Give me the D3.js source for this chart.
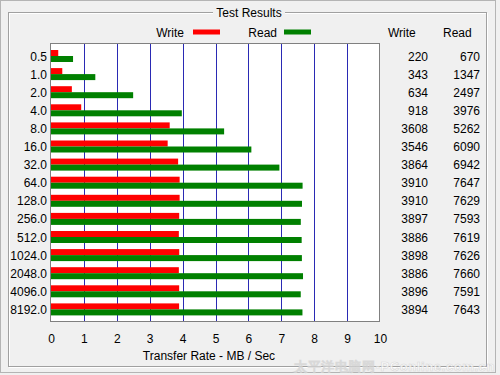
<!DOCTYPE html>
<html><head><meta charset="utf-8">
<script src="https://cdn.jsdelivr.net/npm/d3@7"></script>
<style>body{margin:0;background:#f0f0f0}svg{display:block}text{font-family:"Liberation Sans",Arial,sans-serif}</style>
</head><body><svg id="c" width="500" height="375"></svg>
<script>
const categories = ["0.5","1.0","2.0","4.0","8.0","16.0","32.0","64.0","128.0","256.0","512.0","1024.0","2048.0","4096.0","8192.0"];
const writeValues = [220,343,634,918,3608,3546,3864,3910,3910,3897,3886,3898,3886,3896,3894];
const readValues  = [670,1347,2497,3976,5262,6090,6942,7647,7629,7593,7619,7626,7660,7591,7643];
const xTicks = [0,1,2,3,4,5,6,7,8,9,10];
const title = "Test Results";
const xLabel = "Transfer Rate - MB / Sec";

const svg = d3.select("#c");
svg.append("rect").attr("width",500).attr("height",375).attr("fill","#f0f0f0");
svg.append("rect").attr("x",0.5).attr("y",0.5).attr("width",495).attr("height",372).attr("fill","none").attr("stroke","#b4b4b4");

// group box (etched)
svg.append("rect").attr("x",9.5).attr("y",13.5).attr("width",478).attr("height",354).attr("fill","none").attr("stroke","#ffffff");
svg.append("rect").attr("x",8.5).attr("y",12.5).attr("width",478).attr("height",354).attr("fill","none").attr("stroke","#a0a0a0");
svg.append("rect").attr("x",213).attr("y",5).attr("width",72).attr("height",12).attr("fill","#f0f0f0");
svg.append("text").attr("x",249).attr("y",17).attr("text-anchor","middle").attr("font-size",12).attr("fill","#000").text(title);

const x = d3.scaleLinear().domain([0,10]).range([51,380]);
const y = d3.scaleBand().domain(categories).range([47, 47+18.1*categories.length]);

// plot area
svg.append("rect").attr("x",50.5).attr("y",43.5).attr("width",329).attr("height",278).attr("fill","#ffffff").attr("stroke","#808080");

// grid
svg.append("g").selectAll("line").data(xTicks.filter(d=>d>0&&d<10)).join("line")
  .attr("x1",d=>Math.round(x(d))+0.5).attr("x2",d=>Math.round(x(d))+0.5)
  .attr("y1",44).attr("y2",321).attr("stroke","#2a2ab4").attr("stroke-width",1);

// bars
const g = svg.append("g");
g.selectAll(".w").data(categories).join("rect")
  .attr("x",x(0)).attr("y",(d)=>y(d)+3).attr("height",6)
  .attr("width",(d,i)=>x(writeValues[i]/1000)-x(0)).attr("fill","#ff0000");
g.selectAll(".r").data(categories).join("rect")
  .attr("x",x(0)).attr("y",(d)=>y(d)+9).attr("height",6)
  .attr("width",(d,i)=>x(readValues[i]/1000)-x(0)).attr("fill","#008000");

// category labels
svg.append("g").selectAll("text").data(categories).join("text")
  .attr("x",47).attr("y",d=>y(d)+y.bandwidth()/2+4.5).attr("text-anchor","end")
  .attr("font-size",12).attr("fill","#000").text(d=>d);

// x tick labels
const xAxis = d3.axisBottom(x).tickValues(xTicks).tickSize(0).tickPadding(0).tickFormat(d3.format("d"));
const ax = svg.append("g").attr("transform","translate(0,334)").call(xAxis);
ax.select(".domain").remove();
ax.selectAll("text").attr("font-size",12).attr("fill","#000").attr("font-family","Liberation Sans, Arial, sans-serif").attr("dy","0.71em");

svg.append("text").attr("x",209).attr("y",360).attr("text-anchor","middle").attr("font-size",12).attr("fill","#000").text(xLabel);

// legend
svg.append("text").attr("x",184).attr("y",36.5).attr("text-anchor","end").attr("font-size",12).text("Write");
svg.append("rect").attr("x",193).attr("y",29.5).attr("width",27).attr("height",5).attr("fill","#ff0000");
svg.append("text").attr("x",277).attr("y",36.5).attr("text-anchor","end").attr("font-size",12).text("Read");
svg.append("rect").attr("x",284).attr("y",29.5).attr("width",27).attr("height",5).attr("fill","#008000");

// table
svg.append("text").attr("x",388).attr("y",36.5).attr("font-size",12).text("Write");
svg.append("text").attr("x",443).attr("y",36.5).attr("font-size",12).text("Read");
svg.append("g").selectAll("text").data(categories).join("text")
  .attr("x",428).attr("y",d=>y(d)+y.bandwidth()/2+4.5).attr("text-anchor","end")
  .attr("font-size",12).text((d,i)=>writeValues[i]);
svg.append("g").selectAll("text").data(categories).join("text")
  .attr("x",480).attr("y",d=>y(d)+y.bandwidth()/2+4.5).attr("text-anchor","end")
  .attr("font-size",12).text((d,i)=>readValues[i]);

// watermark
svg.append("text").attr("x",495).attr("y",371).attr("text-anchor","end")
  .attr("font-size",13).attr("font-weight","bold").attr("letter-spacing",0.6)
  .attr("font-family","Noto Sans CJK SC, Liberation Sans, sans-serif")
  .attr("fill","#ffffff").attr("stroke","#d4d4d4").attr("stroke-width",0.6).attr("opacity",0.8)
  .text("太平洋电脑网-PConline.com.cn");
</script></body></html>
